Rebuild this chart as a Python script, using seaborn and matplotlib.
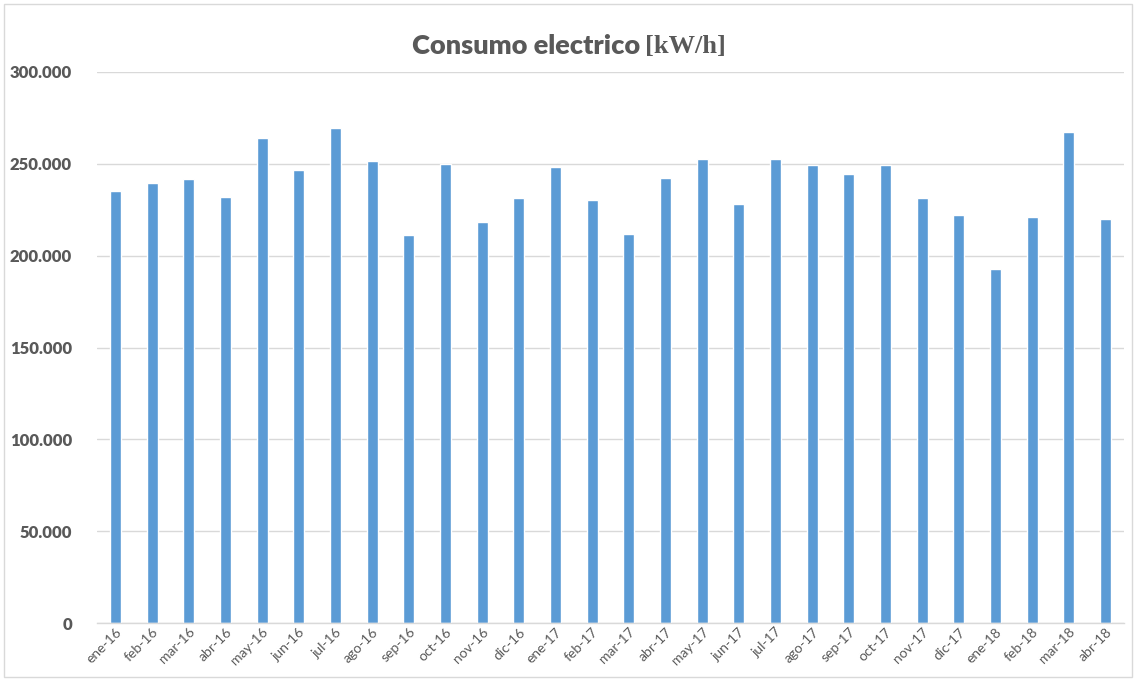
import matplotlib
matplotlib.use("Agg")
import matplotlib.pyplot as plt
import seaborn as sns
import pandas as pd
from matplotlib.ticker import FuncFormatter, FixedLocator
from matplotlib.patches import Rectangle

months = ["ene-16", "feb-16", "mar-16", "abr-16", "may-16", "jun-16", "jul-16", "ago-16",
          "sep-16", "oct-16", "nov-16", "dic-16", "ene-17", "feb-17", "mar-17", "abr-17",
          "may-17", "jun-17", "jul-17", "ago-17", "sep-17", "oct-17", "nov-17", "dic-17",
          "ene-18", "feb-18", "mar-18", "abr-18"]
consumo = [235300, 239800, 241800, 232100, 263800, 246400, 269700, 251600,
           211400, 249800, 218500, 231500, 248200, 230100, 212000, 242400,
           252700, 228000, 252700, 249600, 244300, 249600, 231300, 222300,
           192600, 221000, 267600, 219700]
yticks = [0, 50000, 100000, 150000, 200000, 250000, 300000]

df = pd.DataFrame({"mes": months, "kwh": consumo})

sns.set_style("white")
plt.rcParams["font.family"] = ["Lato", "DejaVu Sans"]

fig = plt.figure(figsize=(11.36, 6.81), dpi=100)
ax = fig.add_axes([97 / 1136, 1 - 623 / 681, (1124 - 97) / 1136, (623 - 72) / 681])

sns.barplot(data=df, x="mes", y="kwh", color="#5b9bd5", saturation=1, width=0.3, ax=ax)

ax.set_ylim(0, 300000)
ax.set_xlim(-0.5, len(months) - 0.5)
ax.yaxis.set_major_locator(FixedLocator(yticks))
ax.yaxis.set_major_formatter(FuncFormatter(lambda v, p: f"{int(v):,}".replace(",", ".")))
ax.grid(axis="y", color="#d9d9d9", linewidth=1)
ax.set_axisbelow(True)
ax.set_xlabel("")
ax.set_ylabel("")
for s in ["top", "right", "left"]:
    ax.spines[s].set_visible(False)
ax.spines["bottom"].set_color("#d9d9d9")
ax.spines["bottom"].set_linewidth(1)

ax.tick_params(axis="y", length=0, pad=18, labelsize=12, labelcolor="#595959")
for lbl in ax.get_yticklabels():
    lbl.set_fontweight("heavy")
ax.tick_params(axis="x", which="major", length=0, pad=2, labelsize=10, labelcolor="#595959")
ax.set_xticks([i - 0.5 for i in range(len(months) + 1)], minor=True)
ax.tick_params(axis="x", which="minor", length=5, color="#d9d9d9", width=1)
plt.setp(ax.get_xticklabels(), rotation=45, ha="right", rotation_mode="anchor")

fig.text(640 / 1136, 1 - 46 / 681, "Consumo electrico", ha="right", va="center",
         fontsize=19.5, fontweight="heavy", color="#595959", family=["Lato", "DejaVu Sans"])
fig.text(645 / 1136, 1 - 46 / 681, "[kW/h]", ha="left", va="center",
         fontsize=19, fontweight="bold", color="#595959", family=["Liberation Serif", "DejaVu Serif"])

fig.patches.append(Rectangle((4 / 1136, 4 / 681), 1 - 8 / 1136, 1 - 8 / 681, transform=fig.transFigure,
                             fill=False, edgecolor="#d9d9d9", linewidth=1))

fig.savefig("out.png", dpi=100)
